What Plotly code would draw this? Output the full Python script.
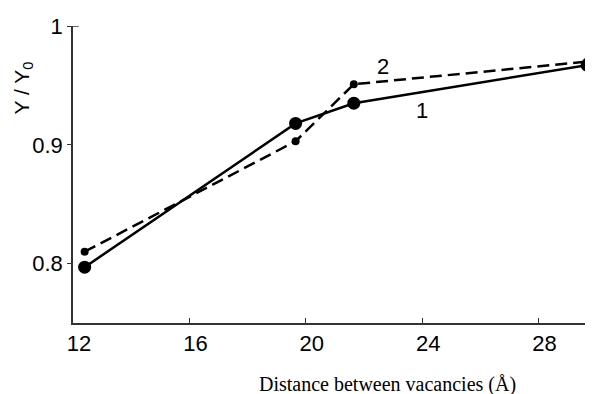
import plotly.graph_objects as go

# Data
x_vals = [12.4, 19.65, 21.65, 29.67]
y_curve1 = [0.797, 0.918, 0.935, 0.967]
y_curve2 = [0.810, 0.903, 0.951, 0.970]
curve_labels = ["1", "2"]
label_pos_x = [24.0, 22.65]
label_pos_y = [0.929, 0.966]
x_ticks = [12, 16, 20, 24, 28]
y_ticks = [0.8, 0.9, 1.0]
y_tick_text = ["0.8", "0.9", "1"]

fig = go.Figure()
fig.add_trace(go.Scatter(
    x=x_vals, y=y_curve2, mode="lines+markers",
    line=dict(color="black", width=2.5, dash="12px,6px"),
    marker=dict(size=8, color="black"), cliponaxis=False, showlegend=False))
fig.add_trace(go.Scatter(
    x=x_vals, y=y_curve1, mode="lines+markers",
    line=dict(color="black", width=2.5),
    marker=dict(size=13, color="black"), cliponaxis=False, showlegend=False))

for t, xx, yy in zip(curve_labels, label_pos_x, label_pos_y):
    fig.add_annotation(x=xx, y=yy, text=t, showarrow=False,
                       font=dict(family="Liberation Sans, Arial", size=22, color="black"))

# y-axis title (rotated, near top)
fig.add_annotation(xref="paper", yref="paper", x=-0.096, y=0.79,
                   xanchor="center", yanchor="middle",
                   text="Y / Y<sub>0</sub>", textangle=-90, showarrow=False,
                   font=dict(family="Liberation Sans, Arial", size=21, color="black"))

# x-axis title (serif, right of centre)
fig.add_annotation(xref="paper", yref="paper", x=0.605, y=-0.208,
                   xanchor="center", yanchor="middle",
                   text="Distance between vacancies (Å)", showarrow=False,
                   font=dict(family="Liberation Serif, Times New Roman", size=20, color="black"))

# small inward tick at top of the y axis
fig.add_shape(type="line", xref="paper", yref="y", x0=0, x1=0.011, y0=1.0, y1=1.0,
              line=dict(color="#333", width=1.5))

fig.update_layout(
    width=585, height=386,
    margin=dict(l=65, r=0, t=18, b=71, autoexpand=False),
    plot_bgcolor="white", paper_bgcolor="white",
    font=dict(family="Liberation Sans, Arial", size=22, color="black"),
    xaxis=dict(range=[12, 29.87], tickvals=x_ticks, showline=True, linecolor="#333",
               linewidth=1.5, ticks="inside", ticklen=5, tickcolor="#333", tickwidth=1.2,
               ticklabelshift=6,
               showgrid=False, zeroline=False, automargin=False),
    yaxis=dict(range=[0.75, 1.0], tickvals=y_ticks, ticktext=y_tick_text, showline=True,
               linecolor="#333", linewidth=1.5, ticks="outside", ticklen=4,
               tickcolor="#333", tickwidth=1.2, showgrid=False, zeroline=False,
               automargin=False),
)

fig.write_html("out.html")
